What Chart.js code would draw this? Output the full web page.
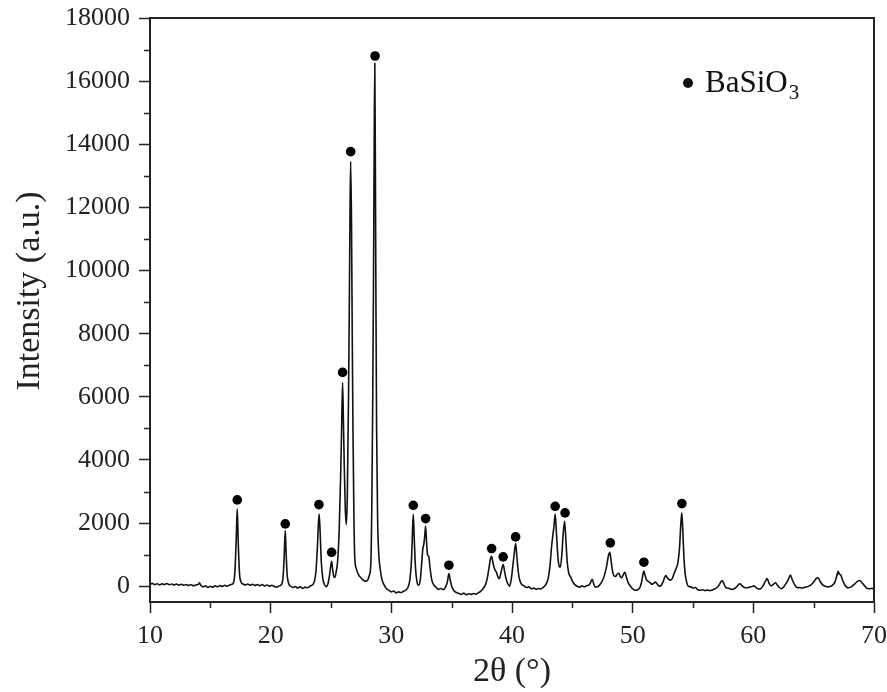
<!DOCTYPE html>
<html>
<head>
<meta charset="utf-8">
<script src="https://cdn.jsdelivr.net/npm/chart.js@4.4.1/dist/chart.umd.min.js"></script>
<style>
  html, body { margin: 0; padding: 0; background: #fff; }
  #wrap { width: 887px; height: 692px; position: relative; }
</style>
</head>
<body>
<div id="wrap"><canvas id="chart"></canvas></div>
<script>
// XRD pattern: 2theta (deg) and intensity (a.u.)
const twoTheta = [
  10.0, 10.2, 10.4, 10.6, 10.8, 11.0, 11.2, 11.4, 11.6, 11.8, 12.0, 12.2, 12.4, 12.6, 12.8,
  13.0, 13.2, 13.4, 13.6, 13.8, 14.0, 14.1, 14.2, 14.4, 14.6, 14.8, 15.0, 15.2, 15.4, 15.6,
  15.8, 16.0, 16.2, 16.4, 16.6, 16.8, 16.95, 17.05, 17.15, 17.23, 17.32, 17.42, 17.55, 17.7,
  17.9, 18.1, 18.3, 18.5, 18.7, 18.9, 19.1, 19.3, 19.5, 19.7, 19.9, 20.1, 20.3, 20.5, 20.7,
  20.9, 21.0, 21.08, 21.15, 21.21, 21.28, 21.37, 21.5, 21.65, 21.85, 22.05, 22.25, 22.45,
  22.65, 22.85, 23.05, 23.25, 23.45, 23.6, 23.75, 23.88, 23.96, 24.02, 24.1, 24.2, 24.32,
  24.45, 24.6, 24.75, 24.88, 24.98, 25.05, 25.13, 25.22, 25.32, 25.45, 25.55, 25.68, 25.8,
  25.88, 25.96, 26.03, 26.1, 26.18, 26.27, 26.35, 26.45, 26.52, 26.58, 26.63, 26.7, 26.76,
  26.82, 26.9, 26.97, 27.1, 27.3, 27.5, 27.7, 27.9, 28.05, 28.18, 28.3, 28.38, 28.45, 28.52,
  28.58, 28.63, 28.68, 28.73, 28.78, 28.86, 28.96, 29.06, 29.2, 29.4, 29.6, 29.8, 30.0, 30.2,
  30.4, 30.6, 30.8, 31.0, 31.2, 31.4, 31.55, 31.68, 31.76, 31.82, 31.9, 32.0, 32.12, 32.25,
  32.4, 32.5, 32.6, 32.7, 32.78, 32.84, 32.92, 33.0, 33.1, 33.2, 33.35, 33.5, 33.7, 33.9,
  34.1, 34.3, 34.5, 34.65, 34.77, 34.88, 35.0, 35.2, 35.4, 35.6, 35.8, 36.0, 36.2, 36.4,
  36.6, 36.8, 37.0, 37.2, 37.4, 37.6, 37.8, 37.95, 38.1, 38.22, 38.31, 38.42, 38.55, 38.7,
  38.85, 38.95, 39.08, 39.2, 39.27, 39.38, 39.5, 39.65, 39.8, 39.95, 40.1, 40.22, 40.3, 40.4,
  40.52, 40.65, 40.8, 41.0, 41.2, 41.4, 41.6, 41.8, 42.0, 42.2, 42.4, 42.6, 42.8, 43.0,
  43.15, 43.28, 43.38, 43.48, 43.58, 43.68, 43.8, 43.92, 44.0, 44.12, 44.24, 44.36, 44.46,
  44.58, 44.7, 44.85, 45.0, 45.2, 45.4, 45.6, 45.8, 46.0, 46.2, 46.4, 46.55, 46.65, 46.75,
  46.9, 47.1, 47.3, 47.5, 47.7, 47.85, 47.98, 48.1, 48.2, 48.32, 48.45, 48.58, 48.72, 48.85,
  48.98, 49.1, 49.22, 49.35, 49.5, 49.65, 49.8, 50.0, 50.2, 50.4, 50.6, 50.75, 50.85, 50.93,
  51.02, 51.15, 51.3, 51.45, 51.6, 51.75, 51.9, 52.05, 52.2, 52.35, 52.5, 52.65, 52.75,
  52.88, 53.0, 53.15, 53.3, 53.45, 53.6, 53.75, 53.88, 53.98, 54.07, 54.15, 54.25, 54.35,
  54.48, 54.6, 54.8, 55.0, 55.2, 55.4, 55.6, 55.8, 56.0, 56.2, 56.4, 56.6, 56.8, 57.0, 57.2,
  57.4, 57.55, 57.7, 57.9, 58.1, 58.3, 58.5, 58.7, 58.88, 59.05, 59.25, 59.45, 59.65, 59.85,
  60.05, 60.25, 60.45, 60.6, 60.8, 61.0, 61.14, 61.3, 61.48, 61.65, 61.84, 62.0, 62.15,
  62.33, 62.5, 62.7, 62.9, 63.08, 63.25, 63.45, 63.65, 63.85, 64.05, 64.25, 64.45, 64.65,
  64.85, 65.05, 65.2, 65.37, 65.55, 65.75, 65.95, 66.15, 66.35, 66.55, 66.75, 66.92, 67.03,
  67.12, 67.24, 67.35, 67.5, 67.7, 67.9, 68.1, 68.3, 68.5, 68.7, 68.83, 69.0, 69.2, 69.4,
  69.6, 69.8, 70.0
];
const intensity = [
  60, 90, 50, 80, 40, 75, 55, 85, 45, 70, 40, 65, 35, 60, 30,
  55, 25, 45, 15, 40, 60, 110, 40, -20, 10, -40, 0, -30, 10, -20,
  20, -10, 30, 0, 40, 60, 150, 550, 1550, 2450, 1300, 400, 130, 70,
  40, 70, 30, 60, 20, 55, 15, 50, 10, 40, 0, 30, -10, -30, 10,
  60, 200, 600, 1250, 1763, 1050, 350, 80, 0, -40, -10, -60, -20,
  -70, -30, -50, 0, 40, 130, 450, 1300, 2000, 2290, 1700, 750, 250,
  60, -10, 80, 350, 650, 790, 550, 330, 280, 500, 800, 1800, 3500,
  5000, 6450, 5200, 3800, 2500, 1950, 2800, 5900, 9000, 12000, 13450, 11500, 8000,
  5000, 2200, 900, 550, 350, 260, 180, 160, 200, 350, 700, 2500, 5500, 9500,
  14000, 16565, 13000, 8500, 5000, 2200, 1000, 600, 250, 40, -80, -130, -180, -150,
  -210, -180, -200, -160, -120, -20, 250, 900, 1800, 2280, 1500, 600, 150, 30,
  200, 650, 1150, 1350, 1650, 1900, 1400, 1000, 950, 600, 200, 50, -30, -100,
  -70, -110, -20, 150, 400, 200, 0, -150, -200, -230, -260, -220, -270, -240,
  -260, -230, -250, -210, -160, -80, 50, 250, 600, 880, 950, 750, 550, 450,
  280, 240, 420, 620, 690, 480, 250, 80, 0, 250, 750, 1150, 1350, 950,
  450, 180, 60, 10, -40, -20, -80, -60, -100, -70, -90, -30, 50, 250,
  650, 1250, 1600, 1900, 2290, 1700, 950, 620, 600, 950, 1650, 2057, 1500,
  750, 420, 300, 160, 50, 0, -30, 10, -20, 20, 40, 150, 220, 100,
  -30, -20, 60, 180, 400, 650, 950, 1076, 850, 500, 330, 310, 380, 410,
  300, 270, 360, 440, 260, 90, 10, -80, -130, -110, -40, 150, 380, 480,
  350, 200, 150, 110, 60, 100, 130, 60, 0, 20, 120, 280, 340,
  260, 220, 190, 260, 420, 560, 750, 1200, 1900, 2322, 1800, 900, 400,
  120, 0, -20, -60, -40, -110, -130, -110, -140, -120, -140, -120, -80, -40, 60,
  180, 90, -30, -60, -90, -100, -60, 20, 80, 20, -40, -50, -30, -20,
  10, -50, -90, -80, 10, 160, 240, 100, 10, 60, 105, 30, -40,
  -80, -30, 80, 220, 350, 180, 30, -50, -40, -60, -30, -20, 10,
  70, 160, 240, 270, 140, 40, 0, -20, -10, 30, 120, 330, 470,
  380, 360, 240, 100, -20, -50, -20, 40, 110, 170, 180, 110, 20, -60,
  -80, -70, -80
];

// BaSiO3 reflections marked with dots
const markTheta = [17.23, 21.21, 24.0, 25.05, 25.96, 26.63, 28.65, 31.82, 32.84, 34.77,
  38.31, 39.27, 40.3, 43.58, 44.4, 48.15, 50.93, 54.08];
const markIntensity = [2735, 1975, 2585, 1075, 6773, 13767, 16796, 2563, 2142, 665,
  1193, 930, 1563, 2532, 2322, 1373, 760, 2617];

const xMajorTicks = [10, 20, 30, 40, 50, 60, 70];
const xMinorTicks = [15, 25, 35, 45, 55, 65];
const yMajorTicks = [0, 2000, 4000, 6000, 8000, 10000, 12000, 14000, 16000, 18000];
const yMinorTicks = [1000, 3000, 5000, 7000, 9000, 11000, 13000, 15000, 17000];

const yTitle = 'Intensity (a.u.)';
const legendLabel = 'BaSiO';
const legendSub = '3';

const INK = '#222';
const SERIF = "'Liberation Serif', 'Times New Roman', serif";

const linePoints = twoTheta.map((t, i) => ({ x: t, y: intensity[i] }));
const markPoints = markTheta.map((t, i) => ({ x: t, y: markIntensity[i] }));

// box frame, minor ticks, y title and the legend entry
const framePlugin = {
  id: 'framePlugin',
  afterDraw(chart) {
    const { ctx, chartArea: a, scales } = chart;
    ctx.save();
    ctx.strokeStyle = INK;
    ctx.lineWidth = 2;
    ctx.strokeRect(a.left, a.top, a.right - a.left, a.bottom - a.top);

    ctx.lineWidth = 1.5;
    ctx.beginPath();
    yMinorTicks.forEach(v => {
      const py = Math.round(scales.y.getPixelForValue(v)) + 0.5;
      ctx.moveTo(a.left - 6, py);
      ctx.lineTo(a.left, py);
    });
    xMinorTicks.forEach(v => {
      const px = Math.round(scales.x.getPixelForValue(v)) + 0.5;
      ctx.moveTo(px, a.bottom);
      ctx.lineTo(px, a.bottom + 6);
    });
    ctx.stroke();

    // y axis title, a bit above the middle as in the original
    ctx.save();
    ctx.translate(30, (a.top + a.bottom) / 2 - 19);
    ctx.rotate(-Math.PI / 2);
    ctx.fillStyle = INK;
    ctx.font = '34px ' + SERIF;
    ctx.textAlign = 'center';
    ctx.textBaseline = 'middle';
    ctx.fillText(yTitle, 0, 0);
    ctx.restore();

    // legend
    const lx = a.right - 186;
    const ly = a.top + 65;
    ctx.fillStyle = '#111';
    ctx.beginPath();
    ctx.arc(lx, ly, 5, 0, Math.PI * 2);
    ctx.fill();
    ctx.font = '31px ' + SERIF;
    ctx.textBaseline = 'alphabetic';
    ctx.textAlign = 'left';
    const tx = lx + 17;
    const base = ly + 9;
    ctx.fillText(legendLabel, tx, base);
    const w = ctx.measureText(legendLabel).width;
    ctx.font = '21px ' + SERIF;
    ctx.fillText(legendSub, tx + w + 1, base + 7);
    ctx.restore();
  }
};

new Chart(document.getElementById('chart'), {
  type: 'line',
  data: {
    datasets: [
      {
        label: 'XRD',
        data: linePoints,
        borderColor: '#111',
        borderWidth: 1.6,
        pointRadius: 0,
        fill: false,
        cubicInterpolationMode: 'monotone',
        order: 2
      },
      {
        label: 'BaSiO3',
        type: 'scatter',
        data: markPoints,
        pointRadius: 4.8,
        pointBackgroundColor: '#000',
        pointBorderWidth: 0,
        showLine: false,
        order: 1
      }
    ]
  },
  options: {
    responsive: true,
    maintainAspectRatio: false,
    animation: false,
    layout: { padding: { top: 18, right: 13, left: 0, bottom: 0 } },
    plugins: {
      legend: { display: false },
      tooltip: { enabled: false }
    },
    scales: {
      x: {
        type: 'linear',
        min: 10,
        max: 70,
        afterBuildTicks: s => { s.ticks = xMajorTicks.map(v => ({ value: v })); },
        afterFit: s => { s.height = 90; s.paddingLeft = 0; s.paddingRight = 0; },
        ticks: {
          color: INK,
          padding: 8,
          maxRotation: 0,
          callback: v => String(v),
          font: { family: SERIF, size: 26 }
        },
        grid: { drawOnChartArea: false, tickLength: 11, tickWidth: 1.5, tickColor: INK },
        border: { display: true, color: INK, width: 2 },
        title: {
          display: true,
          text: '2θ (°)',
          color: INK,
          padding: { top: 0, bottom: 0 },
          font: { family: SERIF, size: 34 }
        }
      },
      y: {
        type: 'linear',
        min: -500,
        max: 18000,
        afterBuildTicks: s => { s.ticks = yMajorTicks.map(v => ({ value: v })); },
        afterFit: s => { s.width = 150; s.paddingTop = 0; s.paddingBottom = 0; },
        ticks: {
          color: INK,
          padding: 9,
          callback: v => String(v),
          font: { family: SERIF, size: 26 }
        },
        grid: { drawOnChartArea: false, tickLength: 11, tickWidth: 1.5, tickColor: INK },
        border: { display: true, color: INK, width: 2 },
        title: { display: false }
      }
    }
  },
  plugins: [framePlugin]
});
</script>
</body>
</html>
